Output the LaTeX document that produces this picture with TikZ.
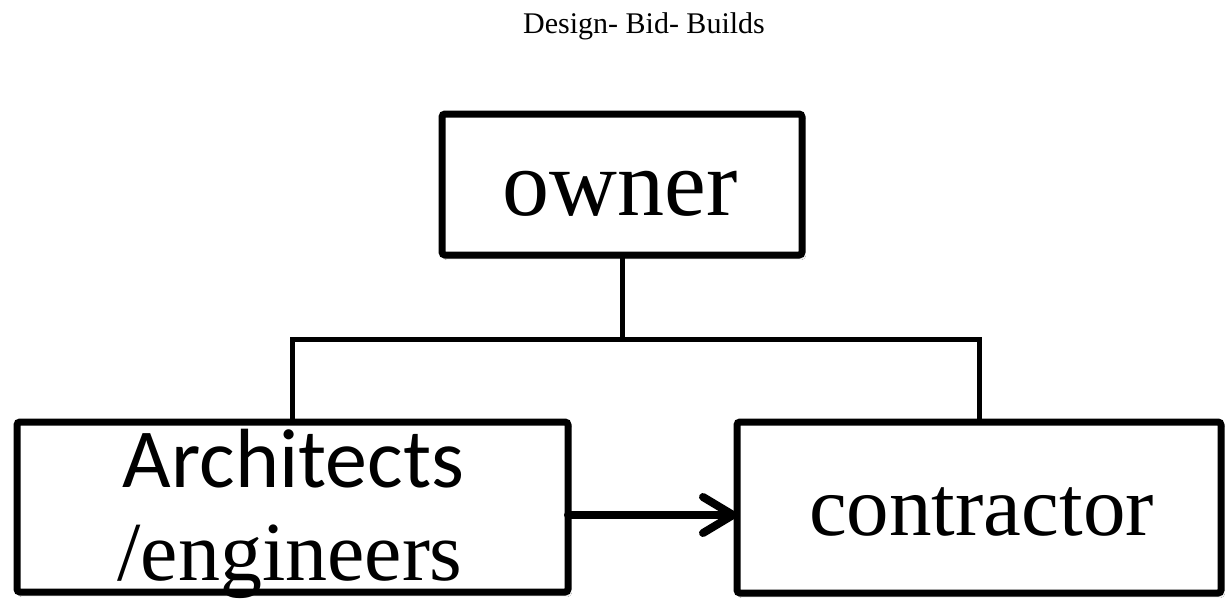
\documentclass[tikz,border=0pt]{standalone}
\usepackage{fontspec}
\setmainfont{Liberation Serif}
\newfontfamily\calibrifont{Carlito}
\usetikzlibrary{arrows.meta,shadows.blur}

\tikzset{
  box/.style={draw=black, line width=7pt, fill=white, rounded corners=3pt,
    inner sep=0pt, outer sep=0pt,
    blur shadow={shadow xshift=2pt, shadow yshift=-3pt, shadow blur steps=6, shadow opacity=30}},
  conn/.style={draw=black, line width=5pt, line join=miter},
  flow/.style={draw=black, line width=8pt, line cap=round,
    -{Straight Barb[length=30pt, width=36pt, round]}},
  lbl/.style={anchor=base, inner sep=0pt, text=black},
}

\begin{document}
\begin{tikzpicture}[x=1pt, y=-1pt]
  \useasboundingbox[fill=white] (0,0) rectangle (1225,598);

  % heading
  \node[lbl] (title) at (644,33) {\fontsize{30}{34}\selectfont Design- Bid- Builds};

  % the three parties
  \node[box, minimum width=360pt, minimum height=141pt] (owner) at (622,184.5) {};
  \node[box, minimum width=551pt, minimum height=170pt] (arch) at (292.5,507) {};
  \node[box, minimum width=484pt, minimum height=171pt] (contr) at (979,507.5) {};

  % box texts
  \node[lbl] (ownerT) at (620,215) {\fontsize{94}{100}\selectfont owner};
  \node[lbl] (archA) at (293.5,487) {\calibrifont\fontsize{84}{90}\selectfont Architects};
  \node[lbl] (archB) at (290,580) {\fontsize{84}{90}\selectfont /engineers};
  \node[lbl] (contrT) at (981.5,535) {\fontsize{85}{90}\selectfont contractor};

  % tree connectors
  \coordinate (jn) at (622,339);
  \coordinate (ar) at (0,515);
  \draw[conn] (owner.south) -- (jn);
  \draw[conn] (arch.north) |- (jn) -| (contr.north);

  % design handed to the contractor
  \draw[flow] (arch.east |- ar) -- (contr.west |- ar);
\end{tikzpicture}
\end{document}
